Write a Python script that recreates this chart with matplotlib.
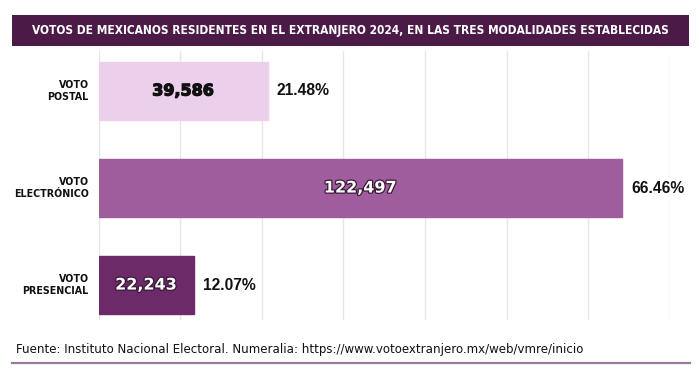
import matplotlib
matplotlib.use('Agg')
import matplotlib.pyplot as plt
import matplotlib.patheffects as pe
from matplotlib import font_manager as fm
from matplotlib.patches import Rectangle
from matplotlib.lines import Line2D

# datos: votos por modalidad
modalidades = ['VOTO\nPOSTAL', 'VOTO\nELECTRÓNICO', 'VOTO\nPRESENCIAL']
votos = [39586, 122497, 22243]
porcentajes = ['21.48%', '66.46%', '12.07%']
etiquetas = ['39,586', '122,497', '22,243']

colores = ['#ecd0eb', '#a05d9e', '#6d2a69']
color_texto = ['#111111', 'white', 'white']

titulo = 'VOTOS DE MEXICANOS RESIDENTES EN EL EXTRANJERO 2024, EN LAS TRES MODALIDADES ESTABLECIDAS'
fuente = 'Fuente: Instituto Nacional Electoral. Numeralia: https://www.votoextranjero.mx/web/vmre/inicio'


def es_estrecha(f):
    return ('Narrow' in f.name or 'Condensed' in f.name or 'Cond' in f.name
            or f.stretch in ('condensed', 'semi-condensed', 'extra-condensed', 300))


def peso(f):
    w = f.weight
    if isinstance(w, str):
        w = {'bold': 700, 'heavy': 800, 'black': 900, 'semibold': 600,
             'demibold': 600, 'extra bold': 800}.get(w, 400)
    return w


cands = [f for f in fm.fontManager.ttflist if es_estrecha(f) and 'CJK' not in f.name]
negritas = [f for f in cands if peso(f) >= 600]
normales = [f for f in cands if peso(f) < 600]
fam_b = negritas[0] if negritas else None
fam_r = normales[0] if normales else None
narrow_b = ([fam_b.name] if fam_b else []) + ['Liberation Sans', 'DejaVu Sans']
narrow_r = ([fam_r.name] if fam_r else []) + ['Liberation Sans', 'DejaVu Sans']
st_b = fam_b.stretch if fam_b else 'normal'
st_r = fam_r.stretch if fam_r else 'normal'

W, H = 700, 370
fig = plt.figure(figsize=(7, 3.7), dpi=100)
fig.patch.set_facecolor('white')
renderer = fig.canvas.get_renderer()


def ajustar(t, ancho):
    # escala el tamaño de letra para que el texto ocupe 'ancho' pixeles
    for _ in range(3):
        w = t.get_window_extent(renderer).width
        t.set_fontsize(t.get_fontsize() * ancho / w)


ax = fig.add_axes([98.5 / W, 1 - 320 / H, (670 - 98.5) / W, (320 - 50.7) / H])
xmax = 133700
ax.set_xlim(0, xmax)
ax.set_ylim(2.36, -0.415)

y = list(range(len(votos)))
ax.barh(y, votos, height=0.6, color=colores, edgecolor=colores, zorder=3)

ax.set_xticks([xmax * i / 7 for i in range(8)])
ax.grid(axis='x', color='#e6e6e6', linewidth=1, zorder=0)
ax.tick_params(left=False, bottom=False, labelbottom=False, labelleft=False)
for s in ax.spines.values():
    s.set_visible(False)

cats = []
for i, m in enumerate(modalidades):
    t = ax.annotate(m, xy=(0, i), xytext=(-7, 0), textcoords='offset points',
                    ha='right', va='center', fontsize=9, fontweight='bold',
                    family=narrow_b, fontstretch=st_b, linespacing=1.3,
                    color='#111111')
    cats.append(t)
# PRESENCIAL mide unos 66 px en la referencia
ajustar(cats[2], 66)
for t in cats[:2]:
    t.set_fontsize(cats[2].get_fontsize())

for i, v in enumerate(votos):
    if color_texto[i] == 'white':
        efectos = [pe.withStroke(linewidth=1.8, foreground='#3a1a38')]
    else:
        efectos = [pe.withStroke(linewidth=0.9, foreground='#111111')]
    ax.text(v / 2, i, etiquetas[i], ha='center', va='center', fontsize=11.5,
            fontweight='bold', color=color_texto[i], family='DejaVu Sans',
            path_effects=efectos, zorder=4)
    p = ax.annotate(porcentajes[i], xy=(v, i), xytext=(6.5, 0), textcoords='offset points',
                    ha='left', va='center', fontsize=11, fontweight='bold',
                    family=['Liberation Sans', 'DejaVu Sans'], color='#111111')
    ajustar(p, 53 * len(porcentajes[i]) / 6)

# banda del titulo
fig.patches.append(Rectangle((11.7 / W, 1 - 45.7 / H), (688.7 - 11.7) / W, 30.7 / H,
                             transform=fig.transFigure, facecolor='#4b1a47',
                             edgecolor='none'))
tt = fig.text(350 / W, 1 - 30.5 / H, titulo, ha='center', va='center', color='white',
              fontsize=9, fontweight='bold', family=narrow_b, fontstretch=st_b)
ajustar(tt, 640)

# fuente y linea inferior
ft = fig.text(16 / W, 1 - 350 / H, fuente, ha='left', va='center', fontsize=9,
              family=narrow_r, fontstretch=st_r, color='#111111')
ajustar(ft, 566)
fig.lines.append(Line2D([12 / W, 690 / W], [1 - 362.5 / H] * 2, transform=fig.transFigure,
                        color='#9a7a98', linewidth=1.6))

fig.savefig('out.png', dpi=100)
